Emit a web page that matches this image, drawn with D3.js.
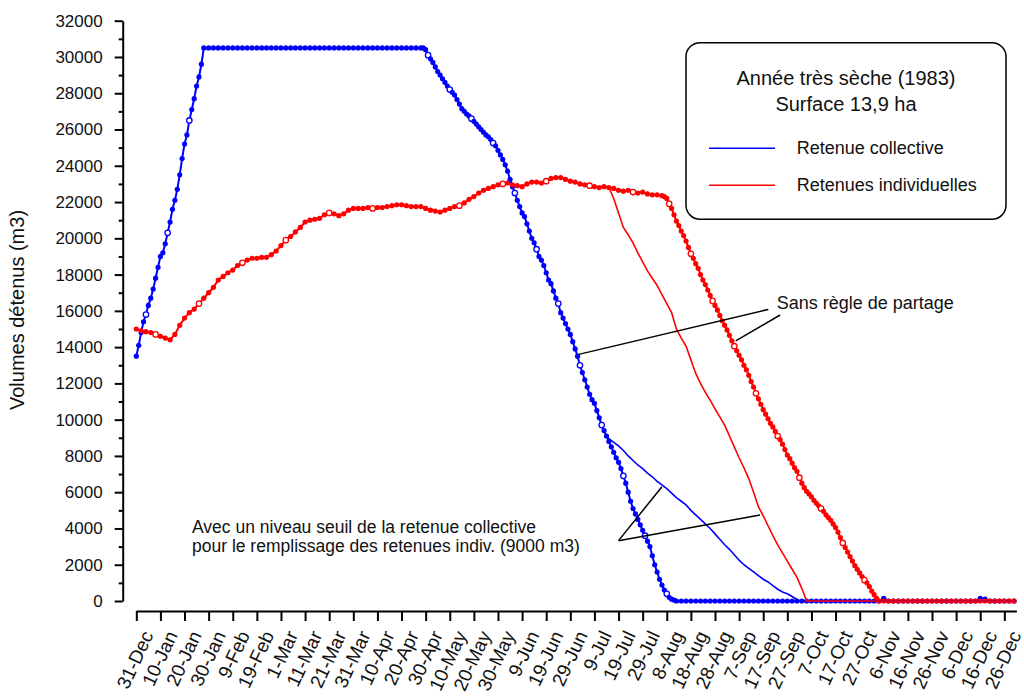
<!DOCTYPE html>
<html>
<head>
<meta charset="utf-8">
<script src="https://cdnjs.cloudflare.com/ajax/libs/d3/7.8.5/d3.min.js"></script>
<style>
	body { margin: 0; background: #fff; }
	svg text { font-family: "Liberation Sans", Arial, sans-serif; fill: #111; }
</style>
</head>
<body>
<div id="chart"></div>
<script>

// Jours depuis le 31-Dec-1982, graduation tous les 10 jours
var xTickLabels = ["31-Dec","10-Jan","20-Jan","30-Jan","9-Feb","19-Feb","1-Mar","11-Mar","21-Mar","31-Mar",
	"10-Apr","20-Apr","30-Apr","10-May","20-May","30-May","9-Jun","19-Jun","29-Jun","9-Jul","19-Jul","29-Jul",
	"8-Aug","18-Aug","28-Aug","7-Sep","17-Sep","27-Sep","7-Oct","17-Oct","27-Oct","6-Nov","16-Nov","26-Nov",
	"6-Dec","16-Dec","26-Dec"];
var xTickDays = d3.range(0, 361, 10);
var yTickValues = d3.range(0, 32001, 2000);
var yMinorValues = d3.range(1000, 32000, 2000);

// Retenue collective, sans regle de partage [jour, m3]
var collectiveSans = [
	[0,13500],[1,14100],[2,14800],[3,15400],[4,15800],[5,16300],[6,16700],[7,17200],[8,17800],[9,18400],
	[10,19000],[11,19200],[12,19700],[13,20300],[14,20900],[15,21600],[16,22100],[17,22700],[18,23500],[19,24400],
	[20,25200],[21,25700],[22,26500],[23,27100],[24,27700],[25,28400],[26,28900],[27,29600],[28,30500],
	[30,30500],[32,30500],[34,30500],[36,30500],[38,30500],[40,30500],[42,30500],[44,30500],[46,30500],[48,30500],
	[50,30500],[52,30500],[54,30500],[56,30500],[58,30500],[60,30500],[62,30500],[64,30500],[66,30500],[68,30500],
	[70,30500],[72,30500],[74,30500],[76,30500],[78,30500],[80,30500],[82,30500],[84,30500],[86,30500],[88,30500],
	[90,30500],[92,30500],[94,30500],[96,30500],[98,30500],[100,30500],[102,30500],[104,30500],[106,30500],[108,30500],
	[110,30500],[112,30500],[114,30500],[116,30500],[118,30500],[119,30500],
	[120,30400],[121,30100],[122,29900],[123,29700],[124,29450],[125,29200],[126,29000],[127,28800],[128,28600],[129,28400],
	[130,28200],[131,28050],[132,27900],[133,27650],[134,27400],[135,27150],[136,27000],[137,26850],[138,26750],[139,26600],
	[140,26450],[141,26300],[142,26150],[143,26000],[144,25850],[145,25700],[146,25600],[147,25450],[148,25250],[149,25100],
	[150,24850],[151,24600],[152,24350],[153,24050],[154,23700],[155,23250],[156,22850],[157,22500],[158,22100],[159,21750],
	[160,21400],[161,21200],[162,20800],[163,20400],[164,20000],[165,19750],[166,19400],[167,19000],[168,18800],[169,18500],
	[170,18100],[171,17700],[172,17500],[173,17100],[174,16700],[175,16400],[176,15900],[177,15600],[178,15300],[179,15000],
	[180,14700],[181,14300],[182,13900],[183,13500],[184,13000],[185,12600],[186,12200],[187,11800],[188,11400],[189,11100],
	[190,10900],[191,10500],[192,10100],[193,9700],[194,9400],[195,9100],[196,8800],[197,8500],[198,8200],[199,7900],
	[200,7650],[201,7300],[202,6900],[203,6500],[204,6000],[205,5500],[206,5100],[207,4800],[208,4500],[209,4200],
	[210,3900],[211,3600],[212,3300],[213,3000],[214,2500],[215,2000],[216,1600],[217,1200],[218,880],[219,600],
	[220,400],[221,200],[222,100],[223,50],[224,0],
	[226,0],[228,0],[230,0],[232,0],[234,0],[236,0],[238,0],[240,0],[242,0],[244,0],[246,0],[248,0],[250,0],
	[252,0],[254,0],[256,0],[258,0],[260,0],[262,0],[264,0],[266,0],[268,0],[270,0],[272,0],[274,0],[276,0],
	[278,0],[280,0],[282,0],[284,0],[286,0],[288,0],[290,0],[292,0],[294,0],[296,0],[298,0],[300,0],[302,0],
	[304,0],[306,0],[308,0],[310,150],[312,0],[314,0],[316,0],[318,0],[320,0],[322,0],[324,0],[326,0],[328,0],
	[330,0],[332,0],[334,0],[336,0],[338,0],[340,0],[342,0],[344,0],[346,0],[348,0],[350,150],[352,100],[354,0],
	[356,0],[358,0],[360,0],[362,0],[364,0]
];

// Retenues individuelles, sans regle de partage [jour, m3]
var individuellesSans = [
	[0,15000],[2,14900],[4,14850],[6,14800],[8,14700],[10,14600],[12,14500],[14,14400],[16,14700],[18,15200],
	[20,15600],[22,15900],[24,16100],[26,16400],[28,16700],[30,17000],[32,17300],[34,17700],[36,17900],[38,18100],
	[40,18250],[42,18500],[44,18650],[46,18800],[48,18900],[50,18900],[52,18950],[54,18950],[56,19100],[58,19300],
	[60,19600],[62,19900],[64,20100],[66,20350],[68,20600],[70,20900],[72,21000],[74,21050],[76,21100],[78,21300],
	[80,21400],[82,21350],[84,21250],[86,21350],[88,21550],[90,21650],[92,21650],[94,21650],[96,21700],[98,21650],
	[100,21700],[102,21700],[104,21750],[106,21800],[108,21850],[110,21850],[112,21800],[114,21750],[116,21750],[118,21750],
	[120,21650],[122,21550],[124,21500],[126,21450],[128,21550],[130,21650],[132,21750],[134,21800],[136,21950],[138,22150],
	[140,22300],[142,22500],[144,22650],[146,22750],[148,22850],[150,22950],[152,23000],[154,23050],[156,22950],[158,22900],
	[160,22850],[162,23000],[164,23100],[166,23100],[168,23050],[170,23150],[172,23300],[174,23350],[176,23350],[178,23250],
	[180,23150],[182,23100],[184,23000],[186,22950],[188,22900],[190,22850],[192,22800],[194,22850],[196,22800],[198,22750],
	[200,22650],[202,22600],[204,22650],[206,22550],[208,22500],[210,22550],[212,22450],[214,22400],[216,22400],[218,22350],
	[219,22300],[220,22200],[221,21900],[222,21650],[223,21300],[224,20950],[225,20700],[226,20400],[227,20150],[228,19850],
	[229,19500],[230,19150],[231,18900],[232,18600],[233,18350],[234,18000],[235,17700],[236,17450],[237,17150],[238,16850],
	[239,16550],[240,16300],[241,16050],[242,15750],[243,15450],[244,15200],[245,14950],[246,14650],[247,14350],[248,14050],
	[249,13800],[250,13550],[251,13300],[252,13000],[253,12750],[254,12450],[255,12100],[256,11800],[257,11450],[258,11150],
	[259,10850],[260,10550],[261,10300],[262,10050],[263,9800],[264,9600],[265,9350],[266,9100],[267,8900],[268,8650],
	[269,8350],[270,8050],[271,7850],[272,7600],[273,7350],[274,7150],[275,6800],[276,6500],[277,6250],[278,6050],
	[279,5900],[280,5750],[281,5550],[282,5400],[283,5250],[284,5100],[285,4950],[286,4750],[287,4600],[288,4450],
	[289,4250],[290,4050],[291,3800],[292,3500],[293,3200],[294,2950],[295,2700],[296,2450],[297,2200],[298,1950],
	[299,1750],[300,1550],[301,1350],[302,1150],[303,1000],[304,800],[305,550],[306,350],[307,150],[308,0],
	[310,0],[312,0],[314,0],[316,0],[318,0],[320,0],[322,0],[324,0],[326,0],[328,0],[330,0],[332,0],[334,0],
	[336,0],[338,0],[340,0],[342,0],[344,0],[346,0],[348,0],[350,0],[352,0],[354,0],[356,0],[358,0],[360,0],
	[362,0],[364,0]
];

// Avec niveau seuil (9000 m3) : partie qui se separe des courbes sans regle
var collectiveSeuil = [
	[195,9100],[196,8950],[198,8750],[200,8550],[202,8300],[204,8000],[206,7750],[208,7500],[210,7300],[212,7050],
	[214,6850],[216,6600],[218,6400],[220,6200],[222,5950],[224,5700],[226,5500],[228,5300],[230,5000],[232,4750],
	[234,4500],[236,4250],[238,4000],[240,3700],[242,3400],[244,3100],[246,2850],[248,2550],[250,2250],[252,2000],
	[254,1800],[256,1600],[258,1400],[260,1200],[262,1050],[264,850],[266,650],[268,500],[270,400],[272,250],
	[274,80],[275,0],[365,0]
];
var individuellesSeuil = [
	[196,22800],[198,22200],[200,21400],[202,20600],[204,20200],[206,19750],[208,19200],[210,18700],[212,18200],[214,17800],
	[216,17400],[218,16900],[220,16400],[222,15900],[224,15000],[226,14500],[228,14050],[230,13300],[232,12550],[234,12000],
	[236,11500],[238,11080],[240,10600],[242,10150],[244,9700],[246,9100],[248,8500],[250,7900],[252,7350],[254,6750],
	[256,6000],[258,5200],[260,4700],[262,4150],[264,3600],[266,3100],[268,2650],[270,2200],[272,1750],[274,1300],
	[276,700],[278,0],[365,0]
];

var legendTitle = ["Année très sèche (1983)", "Surface 13,9 ha"];
var legendItems = [
	{ label: "Retenue collective", color: "#0000ff" },
	{ label: "Retenues individuelles", color: "#ff0000" }
];

var width = 1024,
	height = 698;

var svg = d3.select("#chart")
	.append("svg")
	.attr("width", width)
	.attr("height", height);

// echelles
var x = d3.scaleLinear()
	.domain([0, 365])
	.range([136.3, 1016.4]);

var y = d3.scaleLinear()
	.domain([0, 32000])
	.range([601, 20.7]);

// axe Y
var yAxis = svg.append("g")
	.attr("transform", "translate(122.7,0)")
	.call(d3.axisLeft(y).tickValues(yTickValues).tickSize(8).tickSizeOuter(0).tickPadding(12)
		.tickFormat(d3.format("d")));

svg.append("g")
	.attr("transform", "translate(122.7,0)")
	.call(d3.axisLeft(y).tickValues(yMinorValues).tickSize(4).tickFormat(""))
	.select(".domain").remove();

yAxis.selectAll("text")
	.style("font-size", "17px")
	.style("font-family", "'Liberation Sans', Arial, sans-serif")
	.attr("fill", "#111");

// axe X (decale sous le graphe)
var xAxis = svg.append("g")
	.attr("transform", "translate(0,611)")
	.call(d3.axisBottom(x).tickValues(xTickDays).tickSize(10).tickSizeOuter(0)
		.tickFormat(function (d, i) { return xTickLabels[i] }));

xAxis.selectAll("text")
	.style("font-size", "19px")
	.style("font-family", "'Liberation Sans', Arial, sans-serif")
	.attr("fill", "#111")
	.attr("text-anchor", "end")
	.attr("dy", "0.35em")
	.attr("transform", "translate(11,21) rotate(-65)")
	.attr("y", 0)
	.attr("x", 0);

svg.selectAll(".domain, .tick line")
	.attr("stroke", "#000")
	.attr("stroke-width", 2);

// titre axe Y
svg.append("text")
	.attr("transform", "translate(24,310) rotate(-90)")
	.attr("text-anchor", "middle")
	.style("font-size", "20px")
	.text("Volumes détenus (m3)");

var line = d3.line()
	.x(function (d) { return x(d[0]) })
	.y(function (d) { return y(d[1]) });

// marqueur creux de temps en temps, seulement sur les parties en pente
function isOpen(data, d, i) {
	var prev = data[i - 1];
	return i % 9 == 4 && prev && prev[1] != d[1];
}

// series avec marqueurs
function drawMarked(data, color) {
	svg.append("path")
		.datum(data)
		.attr("fill", "none")
		.attr("stroke", color)
		.attr("stroke-width", 2)
		.attr("d", line);

	svg.append("g")
		.selectAll("circle")
		.data(data)
		.enter()
		.append("circle")
		.attr("cx", function (d) { return x(d[0]) })
		.attr("cy", function (d) { return y(d[1]) })
		.attr("r", function (d, i) { return isOpen(data, d, i) ? 2.7 : 2.6 })
		.attr("fill", function (d, i) { return isOpen(data, d, i) ? "#fff" : color })
		.attr("stroke", color)
		.attr("stroke-width", function (d, i) { return isOpen(data, d, i) ? 1.3 : 0 });
}

function drawThin(data, color) {
	svg.append("path")
		.datum(data)
		.attr("fill", "none")
		.attr("stroke", color)
		.attr("stroke-width", 1.6)
		.attr("d", line);
}

drawMarked(collectiveSans, "#0000ff");
drawMarked(individuellesSans, "#ff0000");
drawThin(collectiveSeuil, "#0000ff");
drawThin(individuellesSeuil, "#ff0000");

// annotations
var annot = svg.append("g")
	.attr("stroke", "#000")
	.attr("stroke-width", 1.5);

annot.append("line")
	.attr("x1", x(262.1)).attr("y1", y(16080))
	.attr("x2", x(183.5)).attr("y2", y(13600));
annot.append("line")
	.attr("x1", x(267)).attr("y1", y(15770))
	.attr("x2", x(248.6)).attr("y2", y(14340));
annot.append("line")
	.attr("x1", x(200)).attr("y1", y(3330))
	.attr("x2", x(218)).attr("y2", y(6300));
annot.append("line")
	.attr("x1", x(200)).attr("y1", y(3320))
	.attr("x2", x(258.7)).attr("y2", y(4740));

svg.append("text")
	.attr("x", 776.7)
	.attr("y", 309)
	.style("font-size", "18px")
	.text("Sans règle de partage");

var avec = svg.append("text")
	.attr("x", 192)
	.attr("y", 533)
	.style("font-size", "17.5px");
avec.append("tspan").attr("x", 192).text("Avec un niveau seuil de la retenue collective");
avec.append("tspan").attr("x", 192).attr("dy", 19).text("pour le remplissage des retenues indiv. (9000 m3)");

// legende
var legend = svg.append("g");

legend.append("rect")
	.attr("x", 686)
	.attr("y", 42.7)
	.attr("width", 320)
	.attr("height", 176.5)
	.attr("rx", 14)
	.attr("fill", "#fff")
	.attr("stroke", "#000")
	.attr("stroke-width", 1.5);

legend.selectAll(".ltitle")
	.data(legendTitle)
	.enter()
	.append("text")
	.attr("class", "ltitle")
	.attr("x", 846)
	.attr("y", function (d, i) { return 85 + i * 26 })
	.attr("text-anchor", "middle")
	.style("font-size", "20px")
	.text(function (d) { return d });

legendItems.forEach(function (item, i) {
	var yy = 148.3 + i * 37;
	legend.append("line")
		.attr("x1", 709).attr("x2", 775)
		.attr("y1", yy).attr("y2", yy)
		.attr("stroke", item.color)
		.attr("stroke-width", 1.6);
	legend.append("text")
		.attr("x", 796.7)
		.attr("y", yy + 5.5)
		.style("font-size", "18px")
		.text(item.label);
});

</script>
</body>
</html>
